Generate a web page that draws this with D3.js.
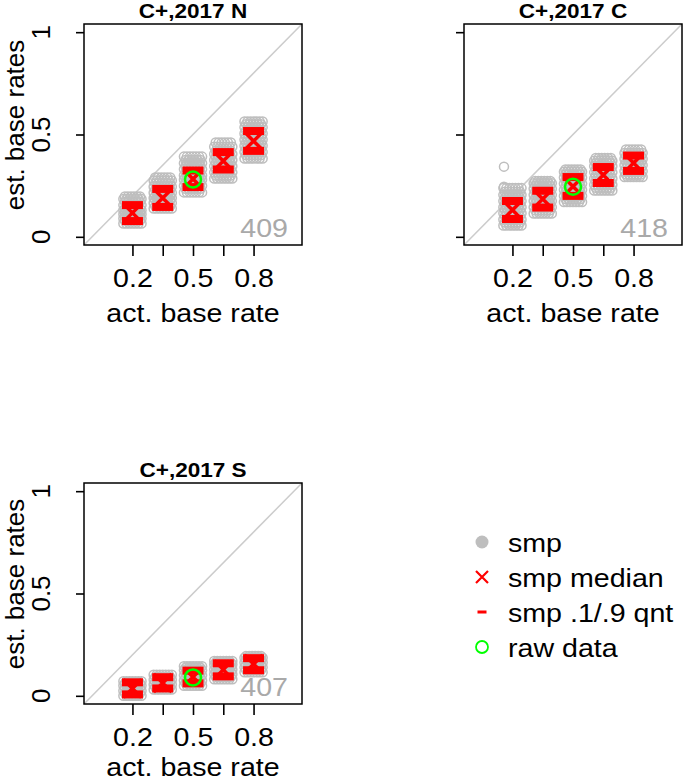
<!DOCTYPE html>
<html>
<head>
<meta charset="utf-8">
<script src="https://cdn.jsdelivr.net/npm/d3@7"></script>
<style>
	body { margin: 0; background: #fff; }
	text { font-family: "Liberation Sans", Arial, sans-serif; }
</style>
</head>
<body>
<script>
(function() {

	// ---- data ----
	var panelTitles = ["C+,2017 N", "C+,2017 C", "C+,2017 S"];
	var panelCounts = [409, 418, 407];

	// actual base rates (x) and the labelled ones
	var xLevels = [0.2, 0.35, 0.5, 0.65, 0.8];
	var xLabelled = [0.2, 0.5, 0.8];
	var yTicks = [0, 0.5, 1];

	// jitter offsets used when plotting the samples (every other row shifted)
	var jitterA = [-0.045, -0.03, -0.015, 0, 0.015, 0.03, 0.045];
	var jitterB = [-0.0375, -0.0225, -0.0075, 0.0075, 0.0225, 0.0375];

	// sampled estimates, one list per x level
	var smpN = [
		[0.065, 0.08, 0.09, 0.1, 0.11, 0.12, 0.13, 0.14, 0.155, 0.17, 0.185, 0.197],
		[0.138, 0.15, 0.165, 0.18, 0.19, 0.2, 0.215, 0.23, 0.245, 0.26, 0.275, 0.29],
		[0.217, 0.235, 0.25, 0.265, 0.28, 0.29, 0.3, 0.315, 0.33, 0.345, 0.36, 0.375, 0.392],
		[0.285, 0.3, 0.315, 0.33, 0.345, 0.36, 0.375, 0.39, 0.405, 0.42, 0.44, 0.461],
		[0.383, 0.4, 0.415, 0.43, 0.445, 0.46, 0.475, 0.49, 0.505, 0.52, 0.535, 0.55, 0.564]
	];
	var smpC = [
		[0.055, 0.07, 0.085, 0.1, 0.115, 0.13, 0.145, 0.16, 0.175, 0.19, 0.205, 0.22, 0.238],
		[0.114, 0.13, 0.145, 0.16, 0.175, 0.19, 0.205, 0.22, 0.235, 0.25, 0.262, 0.273],
		[0.17, 0.185, 0.2, 0.215, 0.23, 0.245, 0.26, 0.275, 0.29, 0.305, 0.318, 0.329],
		[0.226, 0.24, 0.255, 0.27, 0.285, 0.3, 0.315, 0.33, 0.345, 0.36, 0.372, 0.385],
		[0.292, 0.305, 0.32, 0.335, 0.35, 0.365, 0.38, 0.395, 0.41, 0.427]
	];
	var smpS = [
		[0.0, 0.012, 0.025, 0.038, 0.05, 0.062, 0.071],
		[0.031, 0.043, 0.055, 0.067, 0.079, 0.091, 0.103],
		[0.049, 0.062, 0.075, 0.088, 0.1, 0.112, 0.125, 0.136, 0.145],
		[0.081, 0.093, 0.105, 0.117, 0.129, 0.141, 0.153, 0.163, 0.17],
		[0.115, 0.127, 0.139, 0.151, 0.163, 0.175, 0.186, 0.194]
	];
	// a couple of stray samples in the C panel: [x level, jitter, estimate]
	var outC = [[0.2, -0.042, 0.343], [0.2, -0.042, 0.245]];

	// sample medians and .1/.9 quantiles
	var medN = [0.117, 0.19, 0.283, 0.37, 0.468];
	var q10N = [0.077, 0.146, 0.243, 0.329, 0.42];
	var q90N = [0.155, 0.234, 0.324, 0.414, 0.517];

	var medC = [0.131, 0.185, 0.246, 0.302, 0.361];
	var q10C = [0.087, 0.143, 0.2, 0.263, 0.322];
	var q90C = [0.175, 0.225, 0.292, 0.341, 0.397];

	var medS = [0.036, 0.063, 0.092, 0.128, 0.155];
	var q10S = [0.007, 0.036, 0.061, 0.095, 0.125];
	var q90S = [0.066, 0.091, 0.123, 0.159, 0.184];

	// raw data estimate (only at base rate .5)
	var rawX = 0.5;
	var rawY = [0.28, 0.245, 0.09];

	var legendLabels = ["smp", "smp median", "smp .1/.9 qnt", "raw data"];

	var panels = [
		{ smp: smpN, med: medN, q10: q10N, q90: q90N, out: [] },
		{ smp: smpC, med: medC, q10: q10C, q90: q90C, out: outC },
		{ smp: smpS, med: medS, q10: q10S, q90: q90S, out: [] }
	];

	// ---- layout ----
	var width = 685, height = 781;
	var boxW = 218, boxH = 221;
	var panelPos = [[84, 24], [464, 24], [84, 483]];
	var xTitleOffset = [77, 77, 72];
	var showYLabels = [true, false, true];
	var stretch = "scale(1.1,1)";

	var svg = d3.select("body")
		.append("svg")
		.attr("width", width)
		.attr("height", height);

	var x = d3.scaleLinear().domain([-0.04, 1.04]).range([0, boxW]);
	var y = d3.scaleLinear().domain([-0.04, 1.04]).range([boxH, 0]);

	panels.forEach(function(p, i) {

		var g = svg.append("g")
			.attr("transform", "translate(" + panelPos[i][0] + "," + panelPos[i][1] + ")");

		// identity line
		g.append("line")
			.attr("x1", x(-0.04)).attr("y1", y(-0.04))
			.attr("x2", x(1.04)).attr("y2", y(1.04))
			.attr("stroke", "#cccccc")
			.attr("stroke-width", 1.5);

		// samples, jittered around each level
		var pts = [];
		p.smp.forEach(function(vals, k) {
			vals.forEach(function(v, n) {
				(n % 2 ? jitterB : jitterA).forEach(function(j) { pts.push([xLevels[k] + j, v]); });
			});
		});
		p.out.forEach(function(o) { pts.push([o[0] + o[1], o[2]]); });

		g.selectAll(".smp")
			.data(pts)
		.enter().append("circle")
			.attr("class", "smp")
			.attr("cx", function(d) { return x(d[0]); })
			.attr("cy", function(d) { return y(d[1]); })
			.attr("r", 4.5)
			.attr("fill", "none")
			.attr("stroke", "#bebebe")
			.attr("stroke-width", 1.5);

		// .1 / .9 quantile bars
		var qs = [];
		xLevels.forEach(function(xv, k) {
			qs.push([xv, p.q10[k]]);
			qs.push([xv, p.q90[k]]);
		});
		g.selectAll(".qnt")
			.data(qs)
		.enter().append("rect")
			.attr("class", "qnt")
			.attr("x", function(d) { return x(d[0]) - 10.5; })
			.attr("y", function(d) { return y(d[1]) - 4; })
			.attr("width", 21)
			.attr("height", 8)
			.attr("fill", "#ff0000");

		// medians as crosses
		g.selectAll(".med")
			.data(p.med)
		.enter().append("path")
			.attr("class", "med")
			.attr("transform", function(d, k) { return "translate(" + x(xLevels[k]) + "," + y(d) + ")"; })
			.attr("d", "M-9,-9L9,9M-9,9L9,-9")
			.attr("stroke", "#ff0000")
			.attr("stroke-width", 3.5)
			.attr("fill", "none");

		// raw data
		g.append("circle")
			.attr("cx", x(rawX))
			.attr("cy", y(rawY[i]))
			.attr("r", 8)
			.attr("fill", "none")
			.attr("stroke", "#00ff00")
			.attr("stroke-width", 2.5);

		// count in the corner
		g.append("text")
			.attr("transform", "translate(" + (boxW - 14) + "," + (boxH - 8) + ") " + stretch)
			.attr("text-anchor", "end")
			.attr("font-size", 26)
			.attr("fill", "#a9a9a9")
			.text(panelCounts[i]);

		// box
		g.append("rect")
			.attr("width", boxW)
			.attr("height", boxH)
			.attr("fill", "none")
			.attr("stroke", "#000")
			.attr("stroke-width", 1.5);

		// x axis
		var xAxisG = g.append("g")
			.attr("transform", "translate(0," + boxH + ")")
			.call(d3.axisBottom(x)
				.tickValues(xLevels)
				.tickSize(11)
				.tickFormat(function(d) { return xLabelled.indexOf(d) >= 0 ? String(d) : ""; }));
		xAxisG.select(".domain").remove();
		xAxisG.selectAll("line").attr("stroke-width", 1.6);
		xAxisG.selectAll("text")
			.attr("y", 42)
			.attr("dy", 0)
			.attr("transform", stretch)
			.attr("font-size", 26)
			.attr("font-family", "Liberation Sans, Arial, sans-serif")
			.attr("fill", "#000");

		g.append("text")
			.attr("transform", "translate(" + (boxW / 2) + "," + (boxH + xTitleOffset[i]) + ") " + stretch)
			.attr("text-anchor", "middle")
			.attr("font-size", 26)
			.text("act. base rate");

		// y axis
		var yAxisG = g.append("g")
			.call(d3.axisLeft(y).tickValues(yTicks).tickSize(8).tickFormat(""));
		yAxisG.select(".domain").remove();
		yAxisG.selectAll("line").attr("stroke-width", 1.6);

		if (showYLabels[i]) {
			g.selectAll(".ylab")
				.data(yTicks)
			.enter().append("text")
				.attr("class", "ylab")
				.attr("transform", function(d) { return "translate(-34," + y(d) + ") rotate(-90)"; })
				.attr("text-anchor", "middle")
				.attr("font-size", 26)
				.text(function(d) { return String(d); });

			g.append("text")
				.attr("transform", "translate(-60,101) rotate(-90)")
				.attr("text-anchor", "middle")
				.attr("font-size", 26)
				.text("est. base rates");
		}

		// title
		g.append("text")
			.attr("transform", "translate(" + (boxW / 2) + ",-6.5) " + stretch)
			.attr("text-anchor", "middle")
			.attr("font-size", 20.5)
			.attr("font-weight", "bold")
			.text(panelTitles[i]);
	});

	// legend
	var legend = svg.selectAll(".legend")
		.data(legendLabels)
	.enter().append("g")
		.attr("class", "legend")
		.attr("transform", function(d, i) { return "translate(482," + (542 + i * 35) + ")"; });

	legend.append("text")
		.attr("transform", "translate(26,9.5) " + stretch)
		.attr("font-size", 26)
		.text(function(d) { return d; });

	legend.filter(function(d, i) { return i === 0; }).append("circle")
		.attr("r", 6.5)
		.attr("fill", "#bebebe");
	legend.filter(function(d, i) { return i === 1; }).append("path")
		.attr("d", "M-6,-6L6,6M-6,6L6,-6")
		.attr("stroke", "#ff0000")
		.attr("stroke-width", 2.2);
	legend.filter(function(d, i) { return i === 2; }).append("rect")
		.attr("x", -4.5).attr("y", -1.5)
		.attr("width", 9).attr("height", 3)
		.attr("fill", "#ff0000");
	legend.filter(function(d, i) { return i === 3; }).append("circle")
		.attr("r", 6)
		.attr("fill", "none")
		.attr("stroke", "#00ff00")
		.attr("stroke-width", 1.8);

})();
</script>
</body>
</html>
